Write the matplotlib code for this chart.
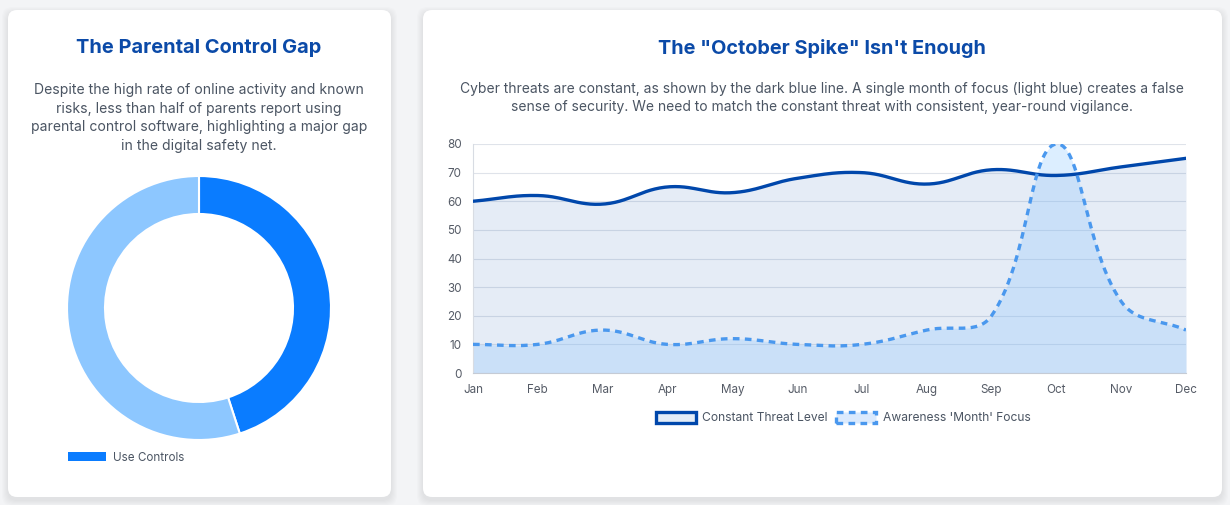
import numpy as np
import matplotlib.pyplot as plt
from matplotlib.patches import FancyBboxPatch, Wedge, Patch

plt.rcParams['font.family'] = ['Inter', 'DejaVu Sans']

# data
months = ['Jan', 'Feb', 'Mar', 'Apr', 'May', 'Jun', 'Jul', 'Aug', 'Sep', 'Oct', 'Nov', 'Dec']
threat_level = [60, 62, 59, 65, 63, 68, 70, 66, 71, 69, 72, 75]
awareness_focus = [10, 10, 15, 10, 12, 10, 10, 15, 20, 80, 25, 15]
control_labels = ['Use Controls', 'Do Not Use Controls']
control_share = [45, 55]

W, H = 1230, 505
fig = plt.figure(figsize=(W / 100, H / 100), dpi=100)
fig.patch.set_facecolor('#f3f4f6')

def px_rect(x, y, w, h):
    return [x / W, 1 - (y + h) / H, w / W, h / H]

# cards
bg = fig.add_axes([0, 0, 1, 1])
bg.set_xlim(0, W)
bg.set_ylim(H, 0)
bg.axis('off')
for (x, y, w, h) in [(8, 10, 383, 487), (423, 10, 799, 487)]:
    for k in range(6, 0, -1):
        bg.add_patch(FancyBboxPatch((x, y + 3), w, h, boxstyle='round,pad=%d,rounding_size=10' % k,
                                    fc='#000000', ec='none', alpha=0.012))
    bg.add_patch(FancyBboxPatch((x, y), w, h, boxstyle='round,pad=0,rounding_size=9',
                                fc='white', ec='none'))

title_c = '#0b4aa8'
text_c = '#4b5563'
fig.text(199 / W, 1 - 48 / H, 'The Parental Control Gap', ha='center', va='center',
         fontsize=14.4, fontweight='bold', color=title_c)
fig.text(199 / W, 1 - 118 / H,
         'Despite the high rate of online activity and known\nrisks, less than half of parents report using\n'
         'parental control software, highlighting a major gap\nin the digital safety net.',
         ha='center', va='center', fontsize=10.1, color=text_c, linespacing=1.42)
fig.text(822 / W, 1 - 48 / H, 'The "October Spike" Isn\'t Enough', ha='center', va='center',
         fontsize=14.3, fontweight='bold', color=title_c)
fig.text(822 / W, 1 - 98 / H,
         'Cyber threats are constant, as shown by the dark blue line. A single month of focus (light blue) creates a false\n'
         'sense of security. We need to match the constant threat with consistent, year-round vigilance.',
         ha='center', va='center', fontsize=10.0, color=text_c, linespacing=1.42)

# donut
ax1 = fig.add_axes(px_rect(59, 168, 280, 280))
ax1.set_xlim(-140, 140)
ax1.set_ylim(-140, 140)
ax1.set_aspect('equal')
ax1.axis('off')
donut_colors = ['#0a7cff', '#8dc7ff']
start = 90
for val, col in zip(control_share, donut_colors):
    sweep = 360 * val / sum(control_share)
    ax1.add_patch(Wedge((0, 0), 132, start - sweep, start, width=38, fc=col, ec='white', lw=1.5))
    start -= sweep
fig.legend(handles=[Patch(fc=donut_colors[0], ec='none', label=control_labels[0])],
           loc='center left', bbox_to_anchor=(57 / W, 1 - 458 / H), frameon=False,
           fontsize=8.4, labelcolor='#4b5563', handlelength=3.3, handleheight=0.8, handletextpad=0.6)

# smooth curve, chart.js style tension
def spline(xs, ys, sx, sy, t=0.4, n=30):
    P = np.column_stack([np.array(xs, float) * sx, np.array(ys, float) * sy])
    cps = []
    for i in range(len(P)):
        prev = P[max(i - 1, 0)]
        nxt = P[min(i + 1, len(P) - 1)]
        cur = P[i]
        d01 = np.hypot(*(cur - prev))
        d12 = np.hypot(*(nxt - cur))
        tot = d01 + d12 if d01 + d12 > 0 else 1
        fa = t * d01 / tot
        fb = t * d12 / tot
        cps.append((cur - fa * (nxt - prev), cur + fb * (nxt - prev)))
    out = []
    u = np.linspace(0, 1, n)[:, None]
    for i in range(len(P) - 1):
        p0, p3 = P[i], P[i + 1]
        c1, c2 = cps[i][1], cps[i + 1][0]
        seg = (1 - u) ** 3 * p0 + 3 * (1 - u) ** 2 * u * c1 + 3 * (1 - u) * u ** 2 * c2 + u ** 3 * p3
        out.append(seg if i == 0 else seg[1:])
    out = np.vstack(out)
    return out[:, 0] / sx, np.clip(out[:, 1] / sy, 0, 80)

ax2 = fig.add_axes(px_rect(473, 144, 713, 229))
x = np.arange(len(months))
sx, sy = 713 / 11, 229 / 80
tx, ty = spline(x, threat_level, sx, sy)
ax_, ay = spline(x, awareness_focus, sx, sy)
dark = '#0047ab'
light = '#4a98ee'
ax2.fill_between(tx, ty, 0, color=dark, alpha=0.1, lw=0, zorder=2)
ax2.fill_between(ax_, ay, 0, color='#8dc7ff', alpha=0.3, lw=0, zorder=2)
ax2.plot(tx, ty, color=dark, lw=2.4, zorder=4, solid_capstyle='round')
ax2.plot(ax_, ay, color=light, lw=2.4, ls=(0, (2, 1.6)), zorder=4)
ax2.set_xlim(0, 11)
ax2.set_ylim(0, 80)
ax2.set_xticks(x)
ax2.set_xticklabels(months)
ax2.set_yticks(range(0, 81, 10))
ax2.grid(axis='y', color='#dfe3ea', lw=0.8, zorder=1)
ax2.set_axisbelow(True)
for s in ['top', 'right']:
    ax2.spines[s].set_visible(False)
ax2.spines['left'].set_color('#d8dce3')
ax2.spines['bottom'].set_color('#c5cbd5')
ax2.tick_params(axis='both', length=0, labelsize=8.4, colors='#555b66')
ax2.tick_params(axis='x', pad=8)
ax2.tick_params(axis='y', pad=8)
ax2.set_facecolor('none')

handles = [Patch(fc='#e3ecf7', ec=dark, lw=2.4, label='Constant Threat Level'),
           Patch(fc='#dbeafd', ec=light, lw=2.4, ls=(0, (2, 1.6)), label="Awareness 'Month' Focus")]
fig.legend(handles=handles, loc='center', bbox_to_anchor=(843 / W, 1 - 418 / H), ncol=2,
           frameon=False, fontsize=8.7, labelcolor='#4b5563', handlelength=3.3, handleheight=1.0,
           handletextpad=0.55, columnspacing=0.7)

fig.savefig('out.png', dpi=100, facecolor=fig.get_facecolor())
